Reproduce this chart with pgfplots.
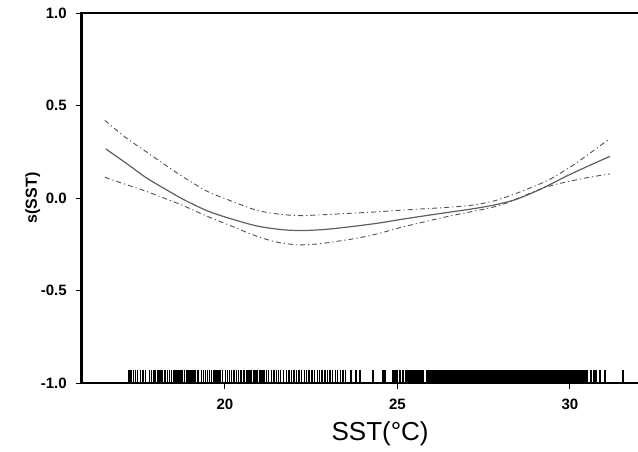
\documentclass[border=0pt]{standalone}
\usepackage{pgfplots}
\pgfplotsset{compat=1.18}
\usepackage{fontspec}
\setmainfont{Liberation Sans}
\definecolor{curvegray}{RGB}{95,95,95}
\definecolor{cigray}{RGB}{80,80,80}
\begin{document}
\begin{tikzpicture}
\useasboundingbox (-40.85pt,-34pt) rectangle (278.15pt,191.5pt);
\begin{axis}[
  at={(0,0)}, anchor=south west,
  scale only axis,
  width=287.2pt, height=185pt,
  xmin=15.85, xmax=32.5, ymin=-1, ymax=1,
  xtick={20,25,30}, xticklabels={20,25,30},
  ytick={-1,-0.5,0,0.5,1}, yticklabels={-1.0,-0.5,0.0,0.5,1.0},
  xtick pos=bottom, ytick pos=left,
  tick align=outside, major tick length=3pt,
  major tick style={line width=0.5pt, black},
  axis line style={line width=1.4pt},
  ticklabel style={font=\bfseries\fontsize{7.5}{9}\selectfont},
  yticklabel style={xshift=-1pt},
  xticklabel style={yshift=-1.5pt},
  xlabel={SST(°C)},
  xlabel style={at={(axis cs:24.5,-1)}, anchor=north, yshift=-19pt, inner sep=0pt, font=\fontsize{13}{15}\selectfont},
  ylabel={s(SST)},
  ylabel style={at={(axis description cs:0,0.5)}, anchor=center, yshift=24.5pt, font=\bfseries\fontsize{8}{10}\selectfont},
  axis on top,
]
% fitted smooth
\addplot[curvegray, line width=0.6pt, smooth] coordinates {
(16.55,0.265) (17.2,0.18) (17.7,0.112) (18.3,0.045) (18.84,-0.012) (19.5,-0.07)
(20.1,-0.108) (20.9,-0.150) (21.6,-0.170) (22.2,-0.176) (22.9,-0.170) (23.6,-0.156)
(24.4,-0.137) (25.1,-0.116) (25.8,-0.096) (26.5,-0.077) (27.2,-0.058) (27.8,-0.038)
(28.4,-0.010) (29.0,0.035) (29.5,0.08) (29.9,0.118) (30.5,0.17) (31.16,0.225)
};
% upper band
\addplot[cigray, line width=0.45pt, smooth, dash pattern=on 2.5pt off 1.5pt on 0.6pt off 1.5pt] coordinates {
(16.52,0.42) (17.1,0.33) (17.69,0.254) (18.3,0.175) (18.84,0.108) (19.5,0.035)
(20.1,-0.01) (20.9,-0.065) (21.6,-0.088) (22.2,-0.095) (22.9,-0.090) (23.6,-0.083)
(24.4,-0.075) (25.1,-0.066) (25.8,-0.058) (26.5,-0.050) (27.2,-0.038) (27.8,-0.016)
(28.3,0.015) (28.75,0.047) (29.42,0.101) (30.2,0.191) (31.11,0.315)
};
% lower band
\addplot[cigray, line width=0.45pt, smooth, dash pattern=on 2.5pt off 1.5pt on 0.6pt off 1.5pt] coordinates {
(16.52,0.112) (17.1,0.075) (17.69,0.038) (18.3,-0.005) (18.84,-0.045) (19.5,-0.10)
(20.1,-0.145) (20.9,-0.205) (21.5,-0.238) (22.1,-0.253) (22.7,-0.248) (23.4,-0.230)
(23.92,-0.214) (24.5,-0.19) (25.08,-0.160) (25.8,-0.128) (26.53,-0.097) (27.2,-0.072)
(27.78,-0.049) (28.2,-0.025) (28.65,0.011) (29.42,0.065) (30.39,0.106) (31.16,0.130)
};
% rug (sparse)
\addplot[black, only marks, mark=|, mark size=3.25pt, line width=0.7pt] coordinates {
(17.22,-0.965) (17.28,-0.965) (17.35,-0.965) (17.41,-0.965) (17.47,-0.965) (17.55,-0.965)
(17.63,-0.965) (17.70,-0.965) (17.82,-0.965) (17.88,-0.965) (17.93,-0.965) (17.98,-0.965)
(18.04,-0.965) (18.09,-0.965) (18.15,-0.965) (18.20,-0.965) (18.26,-0.965) (18.33,-0.965)
(18.40,-0.965) (18.45,-0.965) (18.52,-0.965) (18.58,-0.965) (18.64,-0.965) (18.70,-0.965)
(18.76,-0.965) (18.83,-0.965) (18.90,-0.965) (18.96,-0.965) (19.02,-0.965) (19.08,-0.965)
(19.14,-0.965) (19.22,-0.965) (19.32,-0.965) (19.38,-0.965) (19.44,-0.965) (19.50,-0.965)
(19.56,-0.965) (19.62,-0.965) (19.68,-0.965) (19.74,-0.965) (19.80,-0.965) (19.86,-0.965)
(19.93,-0.965) (20.02,-0.965) (20.08,-0.965) (20.14,-0.965) (20.20,-0.965) (20.26,-0.965)
(20.33,-0.965) (20.40,-0.965) (20.47,-0.965) (20.55,-0.965) (20.62,-0.965) (20.66,-0.965)
(20.70,-0.965) (20.74,-0.965) (20.78,-0.965) (20.84,-0.965) (20.90,-0.965) (20.95,-0.965)
(21.00,-0.965) (21.04,-0.965) (21.08,-0.965) (21.14,-0.965) (21.20,-0.965) (21.27,-0.965)
(21.35,-0.965) (21.42,-0.965) (21.50,-0.965) (21.56,-0.965) (21.62,-0.965) (21.70,-0.965)
(21.78,-0.965) (21.86,-0.965) (21.93,-0.965) (22.00,-0.965) (22.08,-0.965) (22.15,-0.965)
(22.22,-0.965) (22.30,-0.965) (22.37,-0.965) (22.44,-0.965) (22.52,-0.965) (22.60,-0.965)
(22.68,-0.965) (22.75,-0.965) (22.82,-0.965) (22.90,-0.965) (22.97,-0.965) (23.05,-0.965)
(23.12,-0.965) (23.20,-0.965) (23.27,-0.965) (23.35,-0.965) (23.42,-0.965) (23.50,-0.965)
(23.66,-0.965) (23.80,-0.965) (23.92,-0.965) (24.29,-0.965) (24.58,-0.965) (24.64,-0.965)
(24.87,-0.965) (24.93,-0.965) (24.99,-0.965) (25.08,-0.965) (25.16,-0.965) (25.25,-0.965)
(30.61,-0.965) (30.70,-0.965) (30.76,-0.965) (30.87,-0.965) (31.02,-0.965) (31.54,-0.965)
};
% rug (dense)
\addplot[black, only marks, mark=|, mark size=3.25pt, line width=1pt] coordinates {
(25.30,-0.965) (25.35,-0.965) (25.40,-0.965) (25.45,-0.965) (25.50,-0.965) (25.55,-0.965)
(25.60,-0.965) (25.65,-0.965) (25.70,-0.965) (25.75,-0.965)
(25.85,-0.965) (25.90,-0.965) (25.95,-0.965) (26.00,-0.965) (26.05,-0.965) (26.10,-0.965)
(26.15,-0.965) (26.20,-0.965) (26.25,-0.965) (26.30,-0.965) (26.35,-0.965) (26.40,-0.965)
(26.45,-0.965) (26.50,-0.965) (26.55,-0.965) (26.60,-0.965) (26.65,-0.965) (26.70,-0.965)
(26.75,-0.965) (26.80,-0.965) (26.85,-0.965) (26.90,-0.965) (26.95,-0.965) (27.00,-0.965)
(27.05,-0.965) (27.10,-0.965) (27.15,-0.965) (27.20,-0.965) (27.25,-0.965) (27.30,-0.965)
(27.35,-0.965) (27.40,-0.965) (27.45,-0.965) (27.50,-0.965) (27.55,-0.965) (27.60,-0.965)
(27.65,-0.965) (27.70,-0.965) (27.75,-0.965) (27.80,-0.965) (27.85,-0.965) (27.90,-0.965)
(27.95,-0.965) (28.00,-0.965) (28.05,-0.965) (28.10,-0.965) (28.15,-0.965) (28.20,-0.965)
(28.25,-0.965) (28.30,-0.965) (28.35,-0.965) (28.40,-0.965) (28.45,-0.965) (28.50,-0.965)
(28.55,-0.965) (28.60,-0.965) (28.65,-0.965) (28.70,-0.965) (28.75,-0.965) (28.80,-0.965)
(28.85,-0.965) (28.90,-0.965) (28.95,-0.965) (29.00,-0.965) (29.05,-0.965) (29.10,-0.965)
(29.15,-0.965) (29.20,-0.965) (29.25,-0.965) (29.30,-0.965) (29.35,-0.965) (29.40,-0.965)
(29.45,-0.965) (29.50,-0.965) (29.55,-0.965) (29.60,-0.965) (29.65,-0.965) (29.70,-0.965)
(29.75,-0.965) (29.80,-0.965) (29.85,-0.965) (29.90,-0.965) (29.95,-0.965) (30.00,-0.965)
(30.05,-0.965) (30.10,-0.965) (30.15,-0.965) (30.20,-0.965) (30.25,-0.965) (30.30,-0.965)
(30.35,-0.965) (30.40,-0.965) (30.45,-0.965) (30.50,-0.965)
};
\end{axis}
\end{tikzpicture}
\end{document}
